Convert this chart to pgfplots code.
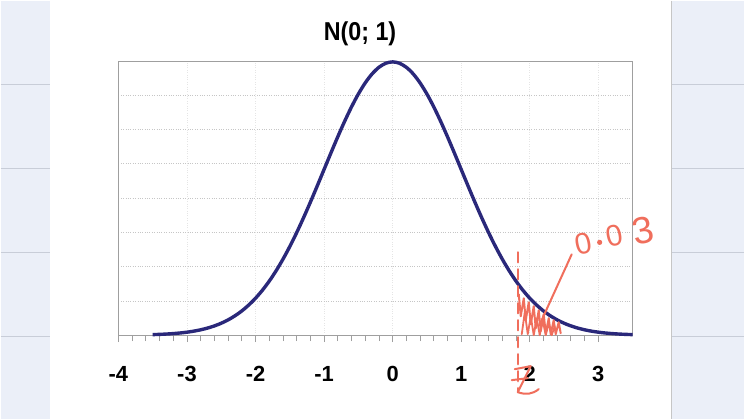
\documentclass[border=0pt]{standalone}
\usepackage{pgfplots}
\pgfplotsset{compat=1.18}
\usepackage{fontspec}
\setmainfont{Liberation Sans}
\newfontfamily\titlefont[FakeStretch=0.9]{Liberation Sans}
\definecolor{curve}{RGB}{42,40,122}
\definecolor{salmon}{RGB}{240,110,92}
\definecolor{side}{RGB}{235,239,248}
\definecolor{sideline}{RGB}{200,205,216}
\begin{document}
\begin{tikzpicture}
% background (pixel coordinates, y down)
\begin{scope}[x=1bp,y=-1bp,shift={(0,419bp)}]
  \fill[white] (0,0) rectangle (745,419);
  \fill[side] (0,0) rectangle (49,419);
  \fill[side] (672,0) rectangle (745,419);
  \foreach \yy in {84,168,252,336}{
    \draw[sideline,line width=1.2bp] (0,\yy) -- (49,\yy);
    \draw[sideline,line width=1.2bp] (672,\yy) -- (745,\yy);
  }
  \draw[gray!45,line width=1.5bp] (672,0) -- (672,419);
  \node[font=\titlefont\bfseries\fontsize{26}{26}\selectfont] at (360,33) {N(0; 1)};
\end{scope}
\useasboundingbox (0,0) rectangle (745bp,419bp);
\begin{axis}[
  at={(118bp,84bp)}, anchor=south west,
  scale only axis, width=515bp, height=274.5bp,
  xmin=-4, xmax=3.5, ymin=0, ymax=0.4,
  clip=false,
  axis line style={gray!75,line width=1.2bp},
  xtick={-4,-3,-2,-1,0,1,2,3},
  xticklabels={-4,-3,-2,-1,0,1,2,3},
  xtick pos=bottom,
  minor x tick num=4,
  tick align=outside,
  major tick length=7bp, minor tick length=6bp,
  every tick/.style={gray!75,line width=0.8bp},
  ytick={0.05,0.1,0.15,0.2,0.25,0.3,0.35},
  yticklabels={},
  ytick style={draw=none},
  xmajorgrids, ymajorgrids,
  x grid style={gray!20,dotted,line width=0.8bp},
  y grid style={gray!45,dotted,line width=0.9bp},
  xticklabel style={font=\bfseries\fontsize{22}{22}\selectfont, yshift=-21bp},
]
\addplot[curve, line width=3.4bp, smooth] coordinates {
(-3.5,0.00087)(-3.4,0.00123)(-3.3,0.00172)(-3.2,0.00238)(-3.1,0.00327)
(-3.0,0.00443)(-2.9,0.00595)(-2.8,0.00792)(-2.7,0.01042)(-2.6,0.01358)
(-2.5,0.01753)(-2.4,0.02239)(-2.3,0.02833)(-2.2,0.03547)(-2.1,0.04398)
(-2.0,0.05399)(-1.9,0.06562)(-1.8,0.07895)(-1.7,0.09405)(-1.6,0.11092)
(-1.5,0.12952)(-1.4,0.14973)(-1.3,0.17137)(-1.2,0.19419)(-1.1,0.21785)
(-1.0,0.24197)(-0.9,0.26609)(-0.8,0.28969)(-0.7,0.31225)(-0.6,0.33322)
(-0.5,0.35207)(-0.4,0.36827)(-0.3,0.38139)(-0.2,0.39104)(-0.1,0.39695)
(0.0,0.39894)
(0.1,0.39695)(0.2,0.39104)(0.3,0.38139)(0.4,0.36827)(0.5,0.35207)
(0.6,0.33322)(0.7,0.31225)(0.8,0.28969)(0.9,0.26609)(1.0,0.24197)
(1.1,0.21785)(1.2,0.19419)(1.3,0.17137)(1.4,0.14973)(1.5,0.12952)
(1.6,0.11092)(1.7,0.09405)(1.8,0.07895)(1.9,0.06562)(2.0,0.05399)
(2.1,0.04398)(2.2,0.03547)(2.3,0.02833)(2.4,0.02239)(2.5,0.01753)
(2.6,0.01358)(2.7,0.01042)(2.8,0.00792)(2.9,0.00595)(3.0,0.00443)
(3.1,0.00327)(3.2,0.00238)(3.3,0.00172)(3.4,0.00123)(3.5,0.00087)
};
\end{axis}
% handwritten annotations (pixel coordinates, y down)
\begin{scope}[x=1bp,y=-1bp,shift={(0,419bp)},salmon,line cap=round,line join=round]
  \draw[line width=2.4bp,dash pattern=on 10bp off 7bp] (518.5,252) -- (518.5,392);
  \draw[line width=2bp] (519,294) -- (521,316) -- (524,298) -- (526,320) -- (529,302)
     -- (531,324) -- (534,306) -- (536,328) -- (539,310) -- (541,331) -- (544,314)
     -- (546,333) -- (549,318) -- (551,334) -- (554,320) -- (556,334) -- (559,322) -- (561,333);
  \draw[line width=1.8bp] (522,334) -- (525,312) -- (528,334) -- (531,316) -- (534,335)
     -- (537,318) -- (540,335) -- (543,320) -- (546,335) -- (549,323) -- (552,335) -- (555,326);
  \draw[line width=2bp] (541,322) -- (572,254);
  \draw[line width=2bp] (515,369) -- (531,366) -- (518,392) .. controls (526,395) and (533,394) .. (539,389);
  \draw[line width=2bp] (512,380) -- (528,378);
  \node[rotate=12, font=\fontsize{30}{30}\selectfont, text=salmon, inner sep=0pt] at (584,243) {0};
  \fill (600,242) circle (2.6);
  \node[rotate=12, font=\fontsize{30}{30}\selectfont, text=salmon, inner sep=0pt] at (615,235) {0};
  \node[rotate=12, font=\fontsize{38}{38}\selectfont, text=salmon, inner sep=0pt] at (644,230) {3};
\end{scope}
\end{tikzpicture}
\end{document}
